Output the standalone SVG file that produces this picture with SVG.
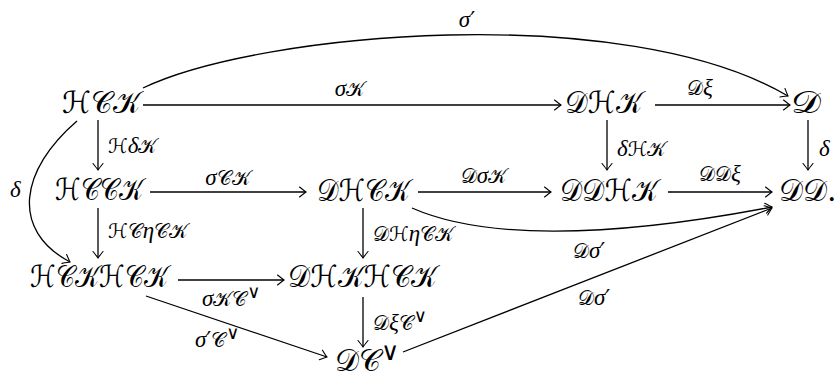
<svg xmlns="http://www.w3.org/2000/svg" width="835" height="379" viewBox="0 0 835 379">
<defs>
<marker id="ar" viewBox="-8 -6 10 12" markerWidth="10" markerHeight="12" refX="0" refY="0" orient="auto" markerUnits="userSpaceOnUse">
<path d="M-6.5,-5 Q-1.5,-1 0,0 Q-1.5,1 -6.5,5" fill="none" stroke="#000" stroke-width="1.1" stroke-linecap="round"/>
</marker>
<style>
.n{font-family:"DejaVu Serif","DejaVu Sans",serif;font-size:30px;fill:#000}
.l{font-family:"DejaVu Serif","DejaVu Sans",serif;font-size:20px;fill:#000}
.g{font-family:"Liberation Serif",serif;font-style:italic;font-size:23px}
.p{font-family:"DejaVu Sans",sans-serif;font-size:22px}
.v{font-family:"DejaVu Sans",sans-serif;font-size:18px}
.c path{fill:none;stroke:#000;stroke-width:1.3;marker-end:url(#ar)}
</style>
</defs>
<rect width="835" height="379" fill="#fff"/>
<g class="c" id="connectors">
<path d="M143,88 C260,32 625,0 788,96"/>
<path d="M143,105 H561"/>
<path d="M655,105 H790"/>
<path d="M98,120 V170"/>
<path d="M77,121 C20,170 10,230 70,262"/>
<path d="M150,192 H306"/>
<path d="M418,192 H551"/>
<path d="M668,192 H772"/>
<path d="M607,120 V170"/>
<path d="M808,120 V170"/>
<path d="M412,208 C480,238 600,240 772,207"/>
<path d="M98,208 V258"/>
<path d="M178,280 H284"/>
<path d="M363,208 V258"/>
<path d="M363,297 V347"/>
<path d="M146,296 L327,357"/>
<path d="M403,352 L772,208"/>
</g>
<g id="labels">
<text class="l" x="467" y="27" text-anchor="middle"><tspan class="g">σ</tspan><tspan class="p">′</tspan></text>
<text class="l" x="350" y="96" text-anchor="middle"><tspan class="g">σ</tspan>𝒦</text>
<text class="l" x="700" y="95" text-anchor="middle">𝒟<tspan class="g">ξ</tspan></text>
<text class="l" x="108" y="153">ℋ<tspan class="g">δ</tspan>𝒦</text>
<text class="l" x="10" y="197"><tspan class="g">δ</tspan></text>
<text class="l" x="228" y="185" text-anchor="middle"><tspan class="g">σ</tspan>𝒞𝒦</text>
<text class="l" x="484" y="183" text-anchor="middle">𝒟<tspan class="g">σ</tspan>𝒦</text>
<text class="l" x="720" y="181" text-anchor="middle">𝒟𝒟<tspan class="g">ξ</tspan></text>
<text class="l" x="617" y="156"><tspan class="g">δ</tspan>ℋ𝒦</text>
<text class="l" x="819" y="156"><tspan class="g">δ</tspan></text>
<text class="l" x="573" y="258">𝒟<tspan class="g">σ</tspan><tspan class="p">′</tspan></text>
<text class="l" x="108" y="238">ℋ𝒞<tspan class="g">η</tspan>𝒞𝒦</text>
<text class="l" x="373" y="241">𝒟ℋ<tspan class="g">η</tspan>𝒞𝒦</text>
<text class="l" x="202" y="306"><tspan class="g">σ</tspan>𝒦𝒞<tspan class="v" dy="-8">∨</tspan></text>
<text class="l" x="195" y="347"><tspan class="g">σ</tspan><tspan class="p">′</tspan>𝒞<tspan class="v" dy="-8">∨</tspan></text>
<text class="l" x="373" y="330">𝒟<tspan class="g">ξ</tspan>𝒞<tspan class="v" dy="-8">∨</tspan></text>
<text class="l" x="578" y="305">𝒟<tspan class="g">σ</tspan><tspan class="p">′</tspan></text>
</g>
<g id="HCK"><text class="n" x="62" y="113" textLength="78" lengthAdjust="spacingAndGlyphs">ℋ𝒞𝒦</text></g>
<g id="DHK"><text class="n" x="565" y="113" textLength="77" lengthAdjust="spacingAndGlyphs">𝒟ℋ𝒦</text></g>
<g id="D"><text class="n" x="791" y="113" textLength="30" lengthAdjust="spacingAndGlyphs">𝒟</text></g>
<g id="HCCK"><text class="n" x="55" y="200" textLength="88" lengthAdjust="spacingAndGlyphs">ℋ𝒞𝒞𝒦</text></g>
<g id="DHCK"><text class="n" x="317" y="201" textLength="93" lengthAdjust="spacingAndGlyphs">𝒟ℋ𝒞𝒦</text></g>
<g id="DDHK"><text class="n" x="560" y="201" textLength="98" lengthAdjust="spacingAndGlyphs">𝒟𝒟ℋ𝒦</text></g>
<g id="DD"><text class="n" x="779" y="201">𝒟𝒟.</text></g>
<g id="HCKHCK"><text class="n" x="30" y="287" textLength="138" lengthAdjust="spacingAndGlyphs">ℋ𝒞𝒦ℋ𝒞𝒦</text></g>
<g id="DHKHCK"><text class="n" x="288" y="287" textLength="149" lengthAdjust="spacingAndGlyphs">𝒟ℋ𝒦ℋ𝒞𝒦</text></g>
<g id="DCv"><text class="n" x="335" y="371">𝒟𝒞<tspan class="v" dy="-11" style="font-size:25px">∨</tspan></text></g>
</svg>
